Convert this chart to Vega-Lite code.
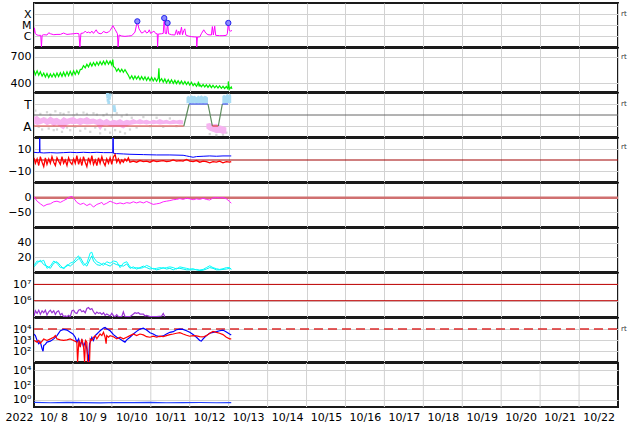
{
"$schema":"https://vega.github.io/schema/vega-lite/v6.json",
"background":"white",
"padding":{"left":0,"top":2,"right":0,"bottom":0},
"spacing":1,
"bounds":"flush",
"config":{
 "font":"DejaVu Sans",
 "view":{"stroke":"#1a1a1a","strokeWidth":2},
 "axis":{"labelFont":"DejaVu Sans","labelFontSize":11,"labelColor":"#000000","gridColor":"#d2d2d2","gridWidth":1,"domain":false,"ticks":false,"labelOverlap":false,"labelFlush":false,"labelPadding":3},
 "axisY":{"minExtent":33,"maxExtent":33},
 "text":{"font":"DejaVu Sans"}
},
"datasets":{
"days":[{"t":"2022-10-09T00:00Z"},{"t":"2022-10-10T00:00Z"},{"t":"2022-10-11T00:00Z"},{"t":"2022-10-12T00:00Z"},{"t":"2022-10-13T00:00Z"},{"t":"2022-10-14T00:00Z"},{"t":"2022-10-15T00:00Z"},{"t":"2022-10-16T00:00Z"},{"t":"2022-10-17T00:00Z"},{"t":"2022-10-18T00:00Z"},{"t":"2022-10-19T00:00Z"},{"t":"2022-10-20T00:00Z"},{"t":"2022-10-21T00:00Z"},{"t":"2022-10-22T00:00Z"}],
"xray":[
{"t":"2022-10-08T00:00Z","v":1.98e-6},{"t":"2022-10-08T00:15Z","v":5.5e-6},{"t":"2022-10-08T00:50Z","v":1.61e-6},{"t":"2022-10-08T01:55Z","v":1.23e-6},{"t":"2022-10-08T02:55Z","v":1.15e-6},{"t":"2022-10-08T04:10Z","v":1.15e-6},{"t":"2022-10-08T04:35Z","v":1e-7},{"t":"2022-10-08T05:00Z","v":1.15e-6},{"t":"2022-10-08T06:00Z","v":1.31e-6},{"t":"2022-10-08T08:00Z","v":1.23e-6},{"t":"2022-10-08T09:05Z","v":1.98e-6},{"t":"2022-10-08T10:05Z","v":1.61e-6},{"t":"2022-10-08T12:10Z","v":1.31e-6},{"t":"2022-10-08T14:10Z","v":1.4e-6},{"t":"2022-10-08T16:15Z","v":1.4e-6},{"t":"2022-10-08T18:15Z","v":1.85e-6},{"t":"2022-10-08T19:15Z","v":1.61e-6},{"t":"2022-10-08T20:20Z","v":1.4e-6},{"t":"2022-10-08T22:20Z","v":1.5e-6},{"t":"2022-10-09T00:25Z","v":1.61e-6},{"t":"2022-10-09T02:25Z","v":1.73e-6},{"t":"2022-10-09T03:40Z","v":1.61e-6},{"t":"2022-10-09T04:18Z","v":1e-7},{"t":"2022-10-09T04:55Z","v":1.73e-6},{"t":"2022-10-09T06:30Z","v":1.85e-6},{"t":"2022-10-09T07:35Z","v":2.78e-6},{"t":"2022-10-09T08:35Z","v":1.98e-6},{"t":"2022-10-09T09:35Z","v":2.27e-6},{"t":"2022-10-09T10:40Z","v":1.85e-6},{"t":"2022-10-09T11:40Z","v":2.78e-6},{"t":"2022-10-09T12:40Z","v":1.73e-6},{"t":"2022-10-09T14:20Z","v":3.66e-6},{"t":"2022-10-09T15:20Z","v":1.98e-6},{"t":"2022-10-09T16:45Z","v":1.61e-6},{"t":"2022-10-09T17:50Z","v":1.73e-6},{"t":"2022-10-09T18:50Z","v":2.6e-6},{"t":"2022-10-09T20:28Z","v":1.98e-6},{"t":"2022-10-09T21:55Z","v":2.27e-6},{"t":"2022-10-09T22:55Z","v":3.19e-6},{"t":"2022-10-09T23:55Z","v":5.5e-6},{"t":"2022-10-10T00:34Z","v":8.9e-6},{"t":"2022-10-10T02:00Z","v":3.92e-6},{"t":"2022-10-10T03:25Z","v":1.61e-6},{"t":"2022-10-10T03:50Z","v":1e-7},{"t":"2022-10-10T04:27Z","v":1.23e-6},{"t":"2022-10-10T06:05Z","v":1.0e-6},{"t":"2022-10-10T08:05Z","v":9.3e-7},{"t":"2022-10-10T10:10Z","v":1.0e-6},{"t":"2022-10-10T12:15Z","v":1.07e-6},{"t":"2022-10-10T14:15Z","v":2.27e-6},{"t":"2022-10-10T15:42Z","v":2.16e-5},{"t":"2022-10-10T16:43Z","v":4.49e-6},{"t":"2022-10-10T18:20Z","v":1.85e-6},{"t":"2022-10-10T19:25Z","v":2.12e-6},{"t":"2022-10-10T20:25Z","v":3.19e-6},{"t":"2022-10-10T21:25Z","v":1.85e-6},{"t":"2022-10-10T22:25Z","v":2.27e-6},{"t":"2022-10-10T23:04Z","v":3.66e-6},{"t":"2022-10-10T23:53Z","v":1.73e-6},{"t":"2022-10-11T01:56Z","v":2.78e-6},{"t":"2022-10-11T03:10Z","v":1.61e-6},{"t":"2022-10-11T03:59Z","v":1.61e-6},{"t":"2022-10-11T04:11Z","v":1e-7},{"t":"2022-10-11T04:35Z","v":1.5e-6},{"t":"2022-10-11T06:40Z","v":1.61e-6},{"t":"2022-10-11T07:40Z","v":1.73e-6},{"t":"2022-10-11T08:17Z","v":4.27e-5},{"t":"2022-10-11T08:53Z","v":1.73e-6},{"t":"2022-10-11T09:40Z","v":1.61e-6},{"t":"2022-10-11T10:20Z","v":1.53e-5},{"t":"2022-10-11T10:56Z","v":1.61e-6},{"t":"2022-10-11T12:45Z","v":1.31e-6},{"t":"2022-10-11T14:50Z","v":1.23e-6},{"t":"2022-10-11T15:50Z","v":3.66e-6},{"t":"2022-10-11T16:28Z","v":1.31e-6},{"t":"2022-10-11T17:17Z","v":2.78e-6},{"t":"2022-10-11T17:55Z","v":1.31e-6},{"t":"2022-10-11T18:55Z","v":6.3e-6},{"t":"2022-10-11T19:32Z","v":1.31e-6},{"t":"2022-10-11T20:22Z","v":3.19e-6},{"t":"2022-10-11T20:58Z","v":4.49e-6},{"t":"2022-10-11T21:35Z","v":1.23e-6},{"t":"2022-10-11T23:00Z","v":1.0e-6},{"t":"2022-10-12T01:05Z","v":8.7e-7},{"t":"2022-10-12T03:05Z","v":8.15e-7},{"t":"2022-10-12T04:10Z","v":8.15e-7},{"t":"2022-10-12T04:20Z","v":1e-7},{"t":"2022-10-12T04:45Z","v":8.15e-7},{"t":"2022-10-12T06:10Z","v":8.15e-7},{"t":"2022-10-12T07:10Z","v":1.61e-6},{"t":"2022-10-12T08:38Z","v":3.66e-6},{"t":"2022-10-12T09:52Z","v":1.85e-6},{"t":"2022-10-12T11:15Z","v":1.31e-6},{"t":"2022-10-12T13:20Z","v":1.23e-6},{"t":"2022-10-12T13:57Z","v":7.2e-6},{"t":"2022-10-12T14:34Z","v":1.23e-6},{"t":"2022-10-12T15:23Z","v":7.7e-6},{"t":"2022-10-12T16:00Z","v":1.15e-6},{"t":"2022-10-12T18:25Z","v":1.07e-6},{"t":"2022-10-12T20:30Z","v":1.07e-6},{"t":"2022-10-12T22:35Z","v":1.15e-6},{"t":"2022-10-12T23:10Z","v":1.61e-6},{"t":"2022-10-12T23:47Z","v":1.53e-5},{"t":"2022-10-13T00:23Z","v":3.19e-6},{"t":"2022-10-13T01:13Z","v":2.78e-6},{"t":"2022-10-13T02:02Z","v":3.19e-6}
],
"flare":[
{"t":"2022-10-10T15:42Z","v":2.16e-5},{"t":"2022-10-11T08:17Z","v":4.27e-5},{"t":"2022-10-11T10:20Z","v":1.53e-5},{"t":"2022-10-12T23:47Z","v":1.53e-5}
],
"sw":[
{"t":"2022-10-08T00:00Z","v":545},{"t":"2022-10-08T00:50Z","v":495},{"t":"2022-10-08T01:55Z","v":540},{"t":"2022-10-08T02:55Z","v":490},{"t":"2022-10-08T03:55Z","v":530},{"t":"2022-10-08T05:00Z","v":480},{"t":"2022-10-08T06:00Z","v":515},{"t":"2022-10-08T07:00Z","v":470},{"t":"2022-10-08T08:00Z","v":510},{"t":"2022-10-08T09:05Z","v":465},{"t":"2022-10-08T10:05Z","v":505},{"t":"2022-10-08T11:05Z","v":470},{"t":"2022-10-08T12:10Z","v":510},{"t":"2022-10-08T13:10Z","v":470},{"t":"2022-10-08T14:10Z","v":515},{"t":"2022-10-08T15:10Z","v":475},{"t":"2022-10-08T16:15Z","v":520},{"t":"2022-10-08T17:15Z","v":478},{"t":"2022-10-08T18:15Z","v":525},{"t":"2022-10-08T19:15Z","v":480},{"t":"2022-10-08T20:20Z","v":530},{"t":"2022-10-08T21:20Z","v":485},{"t":"2022-10-08T22:20Z","v":535},{"t":"2022-10-08T23:25Z","v":490},{"t":"2022-10-09T00:25Z","v":540},{"t":"2022-10-09T01:25Z","v":500},{"t":"2022-10-09T02:25Z","v":545},{"t":"2022-10-09T03:30Z","v":505},{"t":"2022-10-09T04:30Z","v":555},{"t":"2022-10-09T05:30Z","v":560},{"t":"2022-10-09T06:30Z","v":600},{"t":"2022-10-09T07:35Z","v":575},{"t":"2022-10-09T08:35Z","v":615},{"t":"2022-10-09T09:35Z","v":585},{"t":"2022-10-09T10:40Z","v":630},{"t":"2022-10-09T11:40Z","v":595},{"t":"2022-10-09T12:40Z","v":635},{"t":"2022-10-09T13:45Z","v":600},{"t":"2022-10-09T14:45Z","v":640},{"t":"2022-10-09T15:45Z","v":605},{"t":"2022-10-09T16:45Z","v":645},{"t":"2022-10-09T17:50Z","v":610},{"t":"2022-10-09T18:50Z","v":650},{"t":"2022-10-09T19:50Z","v":612},{"t":"2022-10-09T20:50Z","v":655},{"t":"2022-10-09T21:55Z","v":615},{"t":"2022-10-09T22:55Z","v":650},{"t":"2022-10-09T23:55Z","v":610},{"t":"2022-10-10T00:34Z","v":668},{"t":"2022-10-10T01:00Z","v":590},{"t":"2022-10-10T02:00Z","v":575},{"t":"2022-10-10T03:00Z","v":535},{"t":"2022-10-10T04:00Z","v":565},{"t":"2022-10-10T05:05Z","v":530},{"t":"2022-10-10T06:05Z","v":560},{"t":"2022-10-10T07:05Z","v":525},{"t":"2022-10-10T08:05Z","v":555},{"t":"2022-10-10T09:10Z","v":520},{"t":"2022-10-10T10:10Z","v":490},{"t":"2022-10-10T11:10Z","v":450},{"t":"2022-10-10T12:15Z","v":485},{"t":"2022-10-10T13:15Z","v":445},{"t":"2022-10-10T14:15Z","v":482},{"t":"2022-10-10T15:15Z","v":448},{"t":"2022-10-10T16:20Z","v":480},{"t":"2022-10-10T17:20Z","v":440},{"t":"2022-10-10T18:20Z","v":475},{"t":"2022-10-10T19:25Z","v":438},{"t":"2022-10-10T20:25Z","v":472},{"t":"2022-10-10T21:25Z","v":432},{"t":"2022-10-10T22:25Z","v":468},{"t":"2022-10-10T23:30Z","v":428},{"t":"2022-10-11T00:30Z","v":465},{"t":"2022-10-11T01:30Z","v":425},{"t":"2022-10-11T02:30Z","v":460},{"t":"2022-10-11T03:35Z","v":422},{"t":"2022-10-11T04:35Z","v":458},{"t":"2022-10-11T05:00Z","v":570},{"t":"2022-10-11T05:25Z","v":420},{"t":"2022-10-11T06:40Z","v":452},{"t":"2022-10-11T07:40Z","v":412},{"t":"2022-10-11T08:40Z","v":448},{"t":"2022-10-11T09:40Z","v":405},{"t":"2022-10-11T10:45Z","v":442},{"t":"2022-10-11T11:45Z","v":402},{"t":"2022-10-11T12:45Z","v":438},{"t":"2022-10-11T13:50Z","v":398},{"t":"2022-10-11T14:50Z","v":432},{"t":"2022-10-11T15:50Z","v":395},{"t":"2022-10-11T16:50Z","v":428},{"t":"2022-10-11T17:55Z","v":392},{"t":"2022-10-11T18:55Z","v":425},{"t":"2022-10-11T19:55Z","v":388},{"t":"2022-10-11T21:00Z","v":420},{"t":"2022-10-11T22:00Z","v":385},{"t":"2022-10-11T23:00Z","v":415},{"t":"2022-10-12T00:00Z","v":380},{"t":"2022-10-12T01:05Z","v":410},{"t":"2022-10-12T02:05Z","v":372},{"t":"2022-10-12T03:05Z","v":395},{"t":"2022-10-12T04:10Z","v":365},{"t":"2022-10-12T05:10Z","v":398},{"t":"2022-10-12T05:22Z","v":418},{"t":"2022-10-12T05:46Z","v":362},{"t":"2022-10-12T06:10Z","v":385},{"t":"2022-10-12T07:10Z","v":360},{"t":"2022-10-12T08:15Z","v":385},{"t":"2022-10-12T09:15Z","v":358},{"t":"2022-10-12T10:15Z","v":382},{"t":"2022-10-12T11:15Z","v":352},{"t":"2022-10-12T12:20Z","v":380},{"t":"2022-10-12T13:20Z","v":350},{"t":"2022-10-12T14:20Z","v":376},{"t":"2022-10-12T15:25Z","v":348},{"t":"2022-10-12T16:25Z","v":372},{"t":"2022-10-12T17:25Z","v":345},{"t":"2022-10-12T18:25Z","v":370},{"t":"2022-10-12T19:30Z","v":342},{"t":"2022-10-12T20:30Z","v":365},{"t":"2022-10-12T21:30Z","v":340},{"t":"2022-10-12T22:35Z","v":362},{"t":"2022-10-12T23:35Z","v":335},{"t":"2022-10-12T23:47Z","v":420},{"t":"2022-10-13T00:11Z","v":360},{"t":"2022-10-13T00:35Z","v":335},{"t":"2022-10-13T01:35Z","v":358},{"t":"2022-10-13T02:00Z","v":335}
],
"sector":[
{"t":"2022-10-08T00:00Z","v":-1,"k":"A","s":1},{"t":"2022-10-11T20:22Z","v":-1,"k":"A","s":1},
{"t":"2022-10-11T20:22Z","v":-1,"k":"G","s":2},{"t":"2022-10-11T23:38Z","v":1,"k":"G","s":2},
{"t":"2022-10-11T23:38Z","v":1,"k":"T","s":3},{"t":"2022-10-12T11:15Z","v":1,"k":"T","s":3},
{"t":"2022-10-12T11:15Z","v":1,"k":"G","s":4},{"t":"2022-10-12T13:57Z","v":-1,"k":"G","s":4},
{"t":"2022-10-12T13:57Z","v":-1,"k":"A","s":5},{"t":"2022-10-12T17:38Z","v":-1,"k":"A","s":5},
{"t":"2022-10-12T17:38Z","v":-1,"k":"G","s":6},{"t":"2022-10-12T20:06Z","v":1,"k":"G","s":6},
{"t":"2022-10-12T20:06Z","v":1,"k":"T","s":7},{"t":"2022-10-12T23:35Z","v":1,"k":"T","s":7}
],
"pink":[
{"t":"2022-10-08T00:00Z","hi":-0.19,"lo":-0.79,"s":1},{"t":"2022-10-08T01:55Z","hi":-0.07,"lo":-0.9,"s":1},{"t":"2022-10-08T03:55Z","hi":-0.31,"lo":-0.84,"s":1},{"t":"2022-10-08T06:00Z","hi":-0.19,"lo":-0.73,"s":1},{"t":"2022-10-08T08:00Z","hi":-0.37,"lo":-0.93,"s":1},{"t":"2022-10-08T10:05Z","hi":-0.13,"lo":-0.79,"s":1},{"t":"2022-10-08T12:10Z","hi":-0.31,"lo":-1.02,"s":1},{"t":"2022-10-08T14:10Z","hi":-0.25,"lo":-0.87,"s":1},{"t":"2022-10-08T16:15Z","hi":-0.43,"lo":-1.14,"s":1},{"t":"2022-10-08T18:15Z","hi":-0.19,"lo":-1.32,"s":1},{"t":"2022-10-08T20:20Z","hi":-0.34,"lo":-0.9,"s":1},{"t":"2022-10-08T22:20Z","hi":-0.25,"lo":-0.79,"s":1},{"t":"2022-10-09T00:25Z","hi":-0.19,"lo":-0.84,"s":1},{"t":"2022-10-09T02:25Z","hi":-0.37,"lo":-0.79,"s":1},{"t":"2022-10-09T04:30Z","hi":-0.25,"lo":-0.93,"s":1},{"t":"2022-10-09T06:30Z","hi":-0.31,"lo":-0.79,"s":1},{"t":"2022-10-09T08:35Z","hi":-0.19,"lo":-0.87,"s":1},{"t":"2022-10-09T10:40Z","hi":-0.37,"lo":-0.84,"s":1},{"t":"2022-10-09T12:40Z","hi":-0.31,"lo":-0.79,"s":1},{"t":"2022-10-09T14:45Z","hi":-0.43,"lo":-0.9,"s":1},{"t":"2022-10-09T16:45Z","hi":-0.31,"lo":-1.38,"s":1},{"t":"2022-10-09T18:50Z","hi":-0.49,"lo":-0.96,"s":1},{"t":"2022-10-09T20:50Z","hi":-0.34,"lo":-0.9,"s":1},{"t":"2022-10-09T22:55Z","hi":-0.55,"lo":-1.02,"s":1},{"t":"2022-10-10T01:00Z","hi":-0.43,"lo":-1.14,"s":1},{"t":"2022-10-10T03:00Z","hi":-0.49,"lo":-1.02,"s":1},{"t":"2022-10-10T05:05Z","hi":-0.37,"lo":-1.08,"s":1},{"t":"2022-10-10T07:05Z","hi":-0.55,"lo":-1.23,"s":1},{"t":"2022-10-10T09:10Z","hi":-0.43,"lo":-1.02,"s":1},{"t":"2022-10-10T11:10Z","hi":-0.49,"lo":-0.9,"s":1},{"t":"2022-10-10T13:15Z","hi":-0.37,"lo":-0.84,"s":1},{"t":"2022-10-10T15:15Z","hi":-0.49,"lo":-0.79,"s":1},{"t":"2022-10-10T17:20Z","hi":-0.37,"lo":-0.84,"s":1},{"t":"2022-10-10T19:25Z","hi":-0.49,"lo":-0.79,"s":1},{"t":"2022-10-10T21:25Z","hi":-0.43,"lo":-0.87,"s":1},{"t":"2022-10-10T23:30Z","hi":-0.55,"lo":-0.79,"s":1},{"t":"2022-10-11T01:30Z","hi":-0.43,"lo":-0.84,"s":1},{"t":"2022-10-11T03:35Z","hi":-0.49,"lo":-0.79,"s":1},{"t":"2022-10-11T05:35Z","hi":-0.37,"lo":-0.87,"s":1},{"t":"2022-10-11T07:40Z","hi":-0.49,"lo":-0.81,"s":1},{"t":"2022-10-11T09:40Z","hi":-0.43,"lo":-0.79,"s":1},{"t":"2022-10-11T11:45Z","hi":-0.55,"lo":-0.84,"s":1},{"t":"2022-10-11T13:50Z","hi":-0.43,"lo":-0.81,"s":1},{"t":"2022-10-11T15:50Z","hi":-0.49,"lo":-0.79,"s":1},{"t":"2022-10-11T17:55Z","hi":-0.43,"lo":-0.87,"s":1},{"t":"2022-10-11T19:55Z","hi":-0.49,"lo":-0.84,"s":1},
{"t":"2022-10-12T10:15Z","hi":-0.79,"lo":-1.23,"s":2},{"t":"2022-10-12T12:20Z","hi":-0.73,"lo":-1.44,"s":2},{"t":"2022-10-12T14:20Z","hi":-0.84,"lo":-1.53,"s":2},{"t":"2022-10-12T16:25Z","hi":-0.79,"lo":-1.67,"s":2},{"t":"2022-10-12T18:25Z","hi":-0.93,"lo":-1.61,"s":2},{"t":"2022-10-12T20:30Z","hi":-1.02,"lo":-1.73,"s":2},{"t":"2022-10-12T22:35Z","hi":-1.14,"lo":-1.67,"s":2}
],
"lblue":[
{"t":"2022-10-11T22:00Z","hi":1.6,"lo":1.05,"s":1},{"t":"2022-10-11T23:00Z","hi":1.75,"lo":1.1,"s":1},{"t":"2022-10-12T00:00Z","hi":1.65,"lo":1.0,"s":1},{"t":"2022-10-12T01:05Z","hi":1.8,"lo":1.08,"s":1},{"t":"2022-10-12T02:05Z","hi":1.7,"lo":1.05,"s":1},{"t":"2022-10-12T03:05Z","hi":1.75,"lo":1.12,"s":1},{"t":"2022-10-12T04:10Z","hi":1.62,"lo":1.03,"s":1},{"t":"2022-10-12T05:10Z","hi":1.78,"lo":1.1,"s":1},{"t":"2022-10-12T06:10Z","hi":1.68,"lo":1.05,"s":1},{"t":"2022-10-12T07:10Z","hi":1.8,"lo":1.1,"s":1},{"t":"2022-10-12T08:15Z","hi":1.66,"lo":1.02,"s":1},{"t":"2022-10-12T09:15Z","hi":1.75,"lo":1.08,"s":1},{"t":"2022-10-12T10:15Z","hi":1.7,"lo":1.06,"s":1},{"t":"2022-10-12T11:15Z","hi":1.6,"lo":1.1,"s":1},
{"t":"2022-10-12T20:06Z","hi":1.7,"lo":1.05,"s":2},{"t":"2022-10-12T21:07Z","hi":1.85,"lo":1.1,"s":2},{"t":"2022-10-12T22:08Z","hi":1.75,"lo":1.02,"s":2},{"t":"2022-10-12T23:10Z","hi":1.95,"lo":1.08,"s":2},{"t":"2022-10-13T00:11Z","hi":1.8,"lo":1.05,"s":2},{"t":"2022-10-13T01:13Z","hi":1.9,"lo":1.1,"s":2},{"t":"2022-10-13T01:35Z","hi":1.75,"lo":1.08,"s":2}
],
"lbp":[
{"t":"2022-10-09T21:17Z","v":1.88},{"t":"2022-10-09T21:30Z","v":1.64},{"t":"2022-10-09T21:41Z","v":1.35},{"t":"2022-10-09T22:06Z","v":1.14},{"t":"2022-10-09T22:30Z","v":1.53},{"t":"2022-10-09T22:55Z","v":1.82},{"t":"2022-10-09T22:10Z","v":1.7},{"t":"2022-10-10T01:23Z","v":0.76},{"t":"2022-10-10T01:35Z","v":0.55},{"t":"2022-10-10T01:47Z","v":0.4}
],
"gray":[
{"t":"2022-10-08T00:50Z","v":0.4},{"t":"2022-10-08T01:55Z","v":-0.64},{"t":"2022-10-08T02:55Z","v":-1.08},{"t":"2022-10-08T03:55Z","v":0.1},{"t":"2022-10-08T05:00Z","v":-1.32},{"t":"2022-10-08T07:00Z","v":-0.34},{"t":"2022-10-08T08:00Z","v":0.25},{"t":"2022-10-08T09:05Z","v":-1.23},{"t":"2022-10-08T10:05Z","v":0.04},{"t":"2022-10-08T12:10Z","v":-1.38},{"t":"2022-10-08T13:10Z","v":0.34},{"t":"2022-10-08T14:10Z","v":-1.32},{"t":"2022-10-08T16:15Z","v":0.16},{"t":"2022-10-08T17:15Z","v":-1.53},{"t":"2022-10-08T18:15Z","v":0.1},{"t":"2022-10-08T20:20Z","v":-1.14},{"t":"2022-10-08T21:20Z","v":0.25},{"t":"2022-10-08T22:20Z","v":-1.38},{"t":"2022-10-09T00:25Z","v":-0.04},{"t":"2022-10-09T01:25Z","v":-1.08},{"t":"2022-10-09T02:25Z","v":0.1},{"t":"2022-10-09T04:30Z","v":-1.44},{"t":"2022-10-09T06:30Z","v":0.22},{"t":"2022-10-09T07:35Z","v":-1.23},{"t":"2022-10-09T08:35Z","v":0.1},{"t":"2022-10-09T10:40Z","v":-1.53},{"t":"2022-10-09T12:40Z","v":0.16},{"t":"2022-10-09T13:45Z","v":-1.14},{"t":"2022-10-09T14:45Z","v":0.04},{"t":"2022-10-09T16:45Z","v":-1.67},{"t":"2022-10-09T18:50Z","v":-0.04},{"t":"2022-10-09T19:50Z","v":-1.32},{"t":"2022-10-09T20:50Z","v":0.1},{"t":"2022-10-09T22:55Z","v":-1.61},{"t":"2022-10-09T23:55Z","v":-0.19},{"t":"2022-10-10T02:00Z","v":-1.38},{"t":"2022-10-10T03:00Z","v":0.16},{"t":"2022-10-10T05:05Z","v":-1.53},{"t":"2022-10-10T06:05Z","v":-0.13},{"t":"2022-10-10T08:05Z","v":-1.67},{"t":"2022-10-10T09:10Z","v":0.04},{"t":"2022-10-10T11:10Z","v":-1.32},{"t":"2022-10-10T12:15Z","v":-0.25},{"t":"2022-10-10T15:15Z","v":-1.14},{"t":"2022-10-10T19:25Z","v":-0.19},{"t":"2022-10-10T23:30Z","v":-1.02},{"t":"2022-10-11T03:35Z","v":-0.25},{"t":"2022-10-11T07:40Z","v":-1.08},{"t":"2022-10-11T11:45Z","v":-0.31},{"t":"2022-10-11T15:50Z","v":-1.02},{"t":"2022-10-12T12:20Z","v":-1.73},{"t":"2022-10-12T14:20Z","v":-1.38},{"t":"2022-10-12T16:25Z","v":-1.82},{"t":"2022-10-12T18:25Z","v":-1.53},{"t":"2022-10-12T20:30Z","v":-1.79},{"t":"2022-10-12T22:35Z","v":-1.61}
],
"bt":[
{"t":"2022-10-08T00:00Z","v":7.0},{"t":"2022-10-08T01:55Z","v":6.7},{"t":"2022-10-08T03:20Z","v":6.7},{"t":"2022-10-08T03:32Z","v":20},{"t":"2022-10-08T03:44Z","v":6.7},{"t":"2022-10-08T06:00Z","v":6.4},{"t":"2022-10-08T10:05Z","v":6.7},{"t":"2022-10-08T14:10Z","v":6.4},{"t":"2022-10-08T18:15Z","v":6.7},{"t":"2022-10-08T22:20Z","v":7.0},{"t":"2022-10-09T02:25Z","v":6.7},{"t":"2022-10-09T06:30Z","v":7.0},{"t":"2022-10-09T10:40Z","v":6.7},{"t":"2022-10-09T14:45Z","v":7.0},{"t":"2022-10-09T18:50Z","v":6.7},{"t":"2022-10-09T22:55Z","v":6.7},{"t":"2022-10-10T00:34Z","v":6.7},{"t":"2022-10-10T00:46Z","v":20},{"t":"2022-10-10T00:58Z","v":6.1},{"t":"2022-10-10T03:00Z","v":5.8},{"t":"2022-10-10T07:05Z","v":5.5},{"t":"2022-10-10T11:10Z","v":5.2},{"t":"2022-10-10T19:25Z","v":4.9},{"t":"2022-10-11T03:35Z","v":4.6},{"t":"2022-10-11T11:45Z","v":4.6},{"t":"2022-10-11T19:55Z","v":4.3},{"t":"2022-10-11T22:00Z","v":3.7},{"t":"2022-10-12T00:00Z","v":3.1},{"t":"2022-10-12T02:05Z","v":2.5},{"t":"2022-10-12T04:10Z","v":3.1},{"t":"2022-10-12T08:15Z","v":3.4},{"t":"2022-10-12T12:20Z","v":3.7},{"t":"2022-10-12T16:25Z","v":3.4},{"t":"2022-10-12T20:30Z","v":3.7},{"t":"2022-10-13T00:35Z","v":3.7},{"t":"2022-10-13T01:35Z","v":3.7}
],
"bz":[
{"t":"2022-10-08T00:00Z","v":2},{"t":"2022-10-08T00:50Z","v":-3},{"t":"2022-10-08T01:55Z","v":1},{"t":"2022-10-08T02:55Z","v":-5},{"t":"2022-10-08T03:55Z","v":3},{"t":"2022-10-08T05:00Z","v":-2},{"t":"2022-10-08T06:00Z","v":-6},{"t":"2022-10-08T07:00Z","v":2},{"t":"2022-10-08T08:00Z","v":-4},{"t":"2022-10-08T09:05Z","v":1},{"t":"2022-10-08T10:05Z","v":-3},{"t":"2022-10-08T11:05Z","v":3},{"t":"2022-10-08T12:10Z","v":-2},{"t":"2022-10-08T13:10Z","v":-5},{"t":"2022-10-08T14:10Z","v":2},{"t":"2022-10-08T15:10Z","v":-1},{"t":"2022-10-08T16:15Z","v":-4},{"t":"2022-10-08T17:15Z","v":3},{"t":"2022-10-08T18:15Z","v":-3},{"t":"2022-10-08T19:15Z","v":0},{"t":"2022-10-08T20:20Z","v":-5},{"t":"2022-10-08T21:20Z","v":2},{"t":"2022-10-08T22:20Z","v":-2},{"t":"2022-10-08T23:25Z","v":-4},{"t":"2022-10-09T00:25Z","v":1},{"t":"2022-10-09T01:25Z","v":-3},{"t":"2022-10-09T02:25Z","v":4},{"t":"2022-10-09T03:30Z","v":-4},{"t":"2022-10-09T04:30Z","v":1},{"t":"2022-10-09T05:30Z","v":-5},{"t":"2022-10-09T06:30Z","v":3},{"t":"2022-10-09T07:35Z","v":-2},{"t":"2022-10-09T08:35Z","v":-6},{"t":"2022-10-09T09:35Z","v":2},{"t":"2022-10-09T10:40Z","v":-3},{"t":"2022-10-09T11:40Z","v":4},{"t":"2022-10-09T12:40Z","v":-4},{"t":"2022-10-09T13:45Z","v":0},{"t":"2022-10-09T14:45Z","v":-5},{"t":"2022-10-09T15:45Z","v":2},{"t":"2022-10-09T16:45Z","v":-3},{"t":"2022-10-09T17:50Z","v":3},{"t":"2022-10-09T18:50Z","v":-2},{"t":"2022-10-09T19:50Z","v":-5},{"t":"2022-10-09T20:50Z","v":1},{"t":"2022-10-09T21:55Z","v":-3},{"t":"2022-10-09T22:55Z","v":2},{"t":"2022-10-09T23:55Z","v":-4},{"t":"2022-10-10T01:00Z","v":3},{"t":"2022-10-10T02:00Z","v":5},{"t":"2022-10-10T03:00Z","v":-2},{"t":"2022-10-10T04:00Z","v":1},{"t":"2022-10-10T05:05Z","v":-3},{"t":"2022-10-10T06:05Z","v":0},{"t":"2022-10-10T07:05Z","v":-2},{"t":"2022-10-10T08:05Z","v":1},{"t":"2022-10-10T09:10Z","v":-1},{"t":"2022-10-10T10:10Z","v":2},{"t":"2022-10-10T11:10Z","v":-2},{"t":"2022-10-10T13:15Z","v":-1},{"t":"2022-10-10T15:15Z","v":-2},{"t":"2022-10-10T17:20Z","v":-0.5},{"t":"2022-10-10T19:25Z","v":-1.5},{"t":"2022-10-10T21:25Z","v":-1},{"t":"2022-10-10T23:30Z","v":-2},{"t":"2022-10-11T01:30Z","v":-0.5},{"t":"2022-10-11T03:35Z","v":-1.5},{"t":"2022-10-11T05:35Z","v":-1},{"t":"2022-10-11T07:40Z","v":-0.5},{"t":"2022-10-11T09:40Z","v":-1.5},{"t":"2022-10-11T11:45Z","v":-1},{"t":"2022-10-11T13:50Z","v":0},{"t":"2022-10-11T15:50Z","v":-1},{"t":"2022-10-11T17:55Z","v":-0.5},{"t":"2022-10-11T19:55Z","v":-1},{"t":"2022-10-11T22:00Z","v":0.5},{"t":"2022-10-12T00:00Z","v":-1},{"t":"2022-10-12T02:05Z","v":-1.5},{"t":"2022-10-12T04:10Z","v":-0.5},{"t":"2022-10-12T06:10Z","v":-2},{"t":"2022-10-12T08:15Z","v":-1},{"t":"2022-10-12T10:15Z","v":-1.5},{"t":"2022-10-12T12:20Z","v":-2.5},{"t":"2022-10-12T14:20Z","v":-1.5},{"t":"2022-10-12T16:25Z","v":-2},{"t":"2022-10-12T18:25Z","v":-1},{"t":"2022-10-12T20:30Z","v":-2.5},{"t":"2022-10-12T22:35Z","v":-1.5},{"t":"2022-10-13T00:35Z","v":-2},{"t":"2022-10-13T01:35Z","v":-1.5}
],
"dst":[
{"t":"2022-10-08T00:00Z","v":3},{"t":"2022-10-08T01:55Z","v":-12},{"t":"2022-10-08T03:55Z","v":-21},{"t":"2022-10-08T06:00Z","v":-29},{"t":"2022-10-08T08:00Z","v":-23},{"t":"2022-10-08T10:05Z","v":-21},{"t":"2022-10-08T12:10Z","v":-14},{"t":"2022-10-08T14:10Z","v":-12},{"t":"2022-10-08T16:15Z","v":-16},{"t":"2022-10-08T18:15Z","v":-10},{"t":"2022-10-08T20:20Z","v":-4},{"t":"2022-10-08T22:20Z","v":3},{"t":"2022-10-08T23:25Z","v":4},{"t":"2022-10-09T00:25Z","v":-1},{"t":"2022-10-09T02:25Z","v":-16},{"t":"2022-10-09T04:30Z","v":-23},{"t":"2022-10-09T06:30Z","v":-19},{"t":"2022-10-09T08:35Z","v":-27},{"t":"2022-10-09T10:40Z","v":-21},{"t":"2022-10-09T12:40Z","v":-32},{"t":"2022-10-09T14:45Z","v":-23},{"t":"2022-10-09T16:45Z","v":-19},{"t":"2022-10-09T17:50Z","v":-16},{"t":"2022-10-09T18:50Z","v":-24},{"t":"2022-10-09T20:50Z","v":-19},{"t":"2022-10-09T22:55Z","v":-12},{"t":"2022-10-10T01:00Z","v":-17},{"t":"2022-10-10T03:00Z","v":-21},{"t":"2022-10-10T05:05Z","v":-18},{"t":"2022-10-10T07:05Z","v":-21},{"t":"2022-10-10T09:10Z","v":-17},{"t":"2022-10-10T11:10Z","v":-19},{"t":"2022-10-10T13:15Z","v":-14},{"t":"2022-10-10T15:15Z","v":-18},{"t":"2022-10-10T17:20Z","v":-14},{"t":"2022-10-10T19:25Z","v":-18},{"t":"2022-10-10T21:25Z","v":-13},{"t":"2022-10-10T23:30Z","v":-18},{"t":"2022-10-11T01:30Z","v":-23},{"t":"2022-10-11T03:35Z","v":-21},{"t":"2022-10-11T05:35Z","v":-19},{"t":"2022-10-11T07:40Z","v":-14},{"t":"2022-10-11T09:40Z","v":-12},{"t":"2022-10-11T11:45Z","v":-10},{"t":"2022-10-11T13:50Z","v":-7},{"t":"2022-10-11T15:50Z","v":-6},{"t":"2022-10-11T17:55Z","v":-3},{"t":"2022-10-11T19:55Z","v":-6},{"t":"2022-10-11T22:00Z","v":-2},{"t":"2022-10-12T00:00Z","v":-4},{"t":"2022-10-12T02:05Z","v":-7},{"t":"2022-10-12T04:10Z","v":-4},{"t":"2022-10-12T06:10Z","v":-6},{"t":"2022-10-12T08:15Z","v":-2},{"t":"2022-10-12T10:15Z","v":-6},{"t":"2022-10-12T12:20Z","v":-8},{"t":"2022-10-12T14:20Z","v":-1},{"t":"2022-10-12T16:25Z","v":0},{"t":"2022-10-12T18:25Z","v":-1},{"t":"2022-10-12T20:30Z","v":0},{"t":"2022-10-12T22:35Z","v":-4},{"t":"2022-10-13T00:35Z","v":-13},{"t":"2022-10-13T01:35Z","v":-19}
],
"cya":[
{"t":"2022-10-08T00:00Z","v":9},{"t":"2022-10-08T01:55Z","v":15},{"t":"2022-10-08T03:55Z","v":14},{"t":"2022-10-08T06:00Z","v":16},{"t":"2022-10-08T08:00Z","v":5},{"t":"2022-10-08T10:05Z","v":8},{"t":"2022-10-08T12:10Z","v":15},{"t":"2022-10-08T14:10Z","v":12},{"t":"2022-10-08T16:15Z","v":6},{"t":"2022-10-08T18:15Z","v":6},{"t":"2022-10-08T20:20Z","v":8},{"t":"2022-10-08T22:20Z","v":12},{"t":"2022-10-09T00:25Z","v":14},{"t":"2022-10-09T02:25Z","v":20},{"t":"2022-10-09T03:30Z","v":22},{"t":"2022-10-09T04:30Z","v":16},{"t":"2022-10-09T06:30Z","v":9},{"t":"2022-10-09T08:35Z","v":12},{"t":"2022-10-09T10:40Z","v":26},{"t":"2022-10-09T11:40Z","v":27},{"t":"2022-10-09T12:40Z","v":20},{"t":"2022-10-09T14:45Z","v":14},{"t":"2022-10-09T16:45Z","v":12},{"t":"2022-10-09T18:50Z","v":9},{"t":"2022-10-09T20:50Z","v":14},{"t":"2022-10-09T22:55Z","v":12},{"t":"2022-10-10T01:00Z","v":15},{"t":"2022-10-10T03:00Z","v":14},{"t":"2022-10-10T05:05Z","v":6},{"t":"2022-10-10T07:05Z","v":12},{"t":"2022-10-10T09:10Z","v":14},{"t":"2022-10-10T11:10Z","v":7},{"t":"2022-10-10T13:15Z","v":5},{"t":"2022-10-10T15:15Z","v":6},{"t":"2022-10-10T17:20Z","v":5},{"t":"2022-10-10T19:25Z","v":6},{"t":"2022-10-10T21:25Z","v":9},{"t":"2022-10-10T23:30Z","v":7},{"t":"2022-10-11T01:30Z","v":4},{"t":"2022-10-11T03:35Z","v":5},{"t":"2022-10-11T05:35Z","v":6},{"t":"2022-10-11T07:40Z","v":5},{"t":"2022-10-11T09:40Z","v":6},{"t":"2022-10-11T11:45Z","v":7},{"t":"2022-10-11T13:50Z","v":6},{"t":"2022-10-11T15:50Z","v":4},{"t":"2022-10-11T17:55Z","v":7},{"t":"2022-10-11T19:55Z","v":6},{"t":"2022-10-11T22:00Z","v":5},{"t":"2022-10-12T00:00Z","v":4},{"t":"2022-10-12T02:05Z","v":4.5},{"t":"2022-10-12T04:10Z","v":2.7},{"t":"2022-10-12T06:10Z","v":2.7},{"t":"2022-10-12T08:15Z","v":3.5},{"t":"2022-10-12T10:15Z","v":6},{"t":"2022-10-12T12:20Z","v":8.5},{"t":"2022-10-12T14:20Z","v":6},{"t":"2022-10-12T16:25Z","v":4.5},{"t":"2022-10-12T18:25Z","v":3.5},{"t":"2022-10-12T20:30Z","v":4.5},{"t":"2022-10-12T22:35Z","v":6},{"t":"2022-10-13T00:35Z","v":6},{"t":"2022-10-13T01:35Z","v":3.5}
],
"cyb":[
{"t":"2022-10-08T00:00Z","v":7},{"t":"2022-10-08T01:55Z","v":12},{"t":"2022-10-08T03:55Z","v":16},{"t":"2022-10-08T06:00Z","v":10},{"t":"2022-10-08T08:00Z","v":8},{"t":"2022-10-08T10:05Z","v":5},{"t":"2022-10-08T12:10Z","v":12},{"t":"2022-10-08T14:10Z","v":14},{"t":"2022-10-08T16:15Z","v":9},{"t":"2022-10-08T18:15Z","v":4},{"t":"2022-10-08T20:20Z","v":10},{"t":"2022-10-08T22:20Z","v":8},{"t":"2022-10-09T00:25Z","v":12},{"t":"2022-10-09T02:25Z","v":16},{"t":"2022-10-09T03:30Z","v":18},{"t":"2022-10-09T04:30Z","v":20},{"t":"2022-10-09T06:30Z","v":12},{"t":"2022-10-09T08:35Z","v":8},{"t":"2022-10-09T10:40Z","v":18},{"t":"2022-10-09T11:40Z","v":22},{"t":"2022-10-09T12:40Z","v":15},{"t":"2022-10-09T14:45Z","v":10},{"t":"2022-10-09T16:45Z","v":9},{"t":"2022-10-09T18:50Z","v":12},{"t":"2022-10-09T20:50Z","v":10},{"t":"2022-10-09T22:55Z","v":8},{"t":"2022-10-10T01:00Z","v":12},{"t":"2022-10-10T03:00Z","v":10},{"t":"2022-10-10T05:05Z","v":9},{"t":"2022-10-10T07:05Z","v":8},{"t":"2022-10-10T09:10Z","v":11},{"t":"2022-10-10T11:10Z","v":5},{"t":"2022-10-10T13:15Z","v":7},{"t":"2022-10-10T15:15Z","v":4},{"t":"2022-10-10T17:20Z","v":6},{"t":"2022-10-10T19:25Z","v":8},{"t":"2022-10-10T21:25Z","v":6},{"t":"2022-10-10T23:30Z","v":4},{"t":"2022-10-11T01:30Z","v":5},{"t":"2022-10-11T03:35Z","v":3},{"t":"2022-10-11T05:35Z","v":4},{"t":"2022-10-11T07:40Z","v":6},{"t":"2022-10-11T09:40Z","v":4},{"t":"2022-10-11T11:45Z","v":5},{"t":"2022-10-11T13:50Z","v":3},{"t":"2022-10-11T15:50Z","v":5},{"t":"2022-10-11T17:55Z","v":5},{"t":"2022-10-11T19:55Z","v":4},{"t":"2022-10-11T22:00Z","v":3},{"t":"2022-10-12T00:00Z","v":3},{"t":"2022-10-12T02:05Z","v":3},{"t":"2022-10-12T04:10Z","v":3.5},{"t":"2022-10-12T06:10Z","v":2},{"t":"2022-10-12T08:15Z","v":2.5},{"t":"2022-10-12T10:15Z","v":4},{"t":"2022-10-12T12:20Z","v":6},{"t":"2022-10-12T14:20Z","v":5},{"t":"2022-10-12T16:25Z","v":3},{"t":"2022-10-12T18:25Z","v":3},{"t":"2022-10-12T20:30Z","v":3.5},{"t":"2022-10-12T22:35Z","v":4},{"t":"2022-10-13T00:35Z","v":5},{"t":"2022-10-13T01:35Z","v":4}
],
"pur":[
{"t":"2022-10-08T00:00Z","v":1.15e5},{"t":"2022-10-08T00:50Z","v":2.4e5},{"t":"2022-10-08T01:55Z","v":1.66e5},{"t":"2022-10-08T02:55Z","v":2.63e5},{"t":"2022-10-08T03:55Z","v":1.45e5},{"t":"2022-10-08T05:00Z","v":2.4e5},{"t":"2022-10-08T06:00Z","v":1.82e5},{"t":"2022-10-08T07:00Z","v":2.63e5},{"t":"2022-10-08T08:00Z","v":1.32e5},{"t":"2022-10-08T09:05Z","v":2.09e5},{"t":"2022-10-08T10:05Z","v":2.63e5},{"t":"2022-10-08T11:05Z","v":1.82e5},{"t":"2022-10-08T12:10Z","v":2.4e5},{"t":"2022-10-08T13:10Z","v":1.45e5},{"t":"2022-10-08T14:10Z","v":2.09e5},{"t":"2022-10-08T15:10Z","v":2.4e5},{"t":"2022-10-08T16:15Z","v":1.32e5},{"t":"2022-10-08T17:15Z","v":1.66e5},{"t":"2022-10-08T18:15Z","v":1.05e5},{"t":"2022-10-08T19:15Z","v":1.15e5},{"t":"2022-10-08T20:20Z","v":1.05e5},{"t":"2022-10-08T21:20Z","v":1.26e5},{"t":"2022-10-08T22:20Z","v":1.05e5},{"t":"2022-10-08T23:25Z","v":2.4e5},{"t":"2022-10-09T00:25Z","v":2.63e5},{"t":"2022-10-09T01:25Z","v":1.82e5},{"t":"2022-10-09T02:25Z","v":1.66e5},{"t":"2022-10-09T03:30Z","v":2.63e5},{"t":"2022-10-09T04:30Z","v":2.88e5},{"t":"2022-10-09T05:30Z","v":2.09e5},{"t":"2022-10-09T06:30Z","v":2.4e5},{"t":"2022-10-09T07:35Z","v":1.82e5},{"t":"2022-10-09T08:35Z","v":3.31e5},{"t":"2022-10-09T09:35Z","v":3.8e5},{"t":"2022-10-09T10:40Z","v":2.88e5},{"t":"2022-10-09T11:40Z","v":3.31e5},{"t":"2022-10-09T12:40Z","v":2.09e5},{"t":"2022-10-09T13:45Z","v":1.51e5},{"t":"2022-10-09T14:45Z","v":2.0e5},{"t":"2022-10-09T15:45Z","v":1.66e5},{"t":"2022-10-09T16:45Z","v":1.82e5},{"t":"2022-10-09T17:50Z","v":1.45e5},{"t":"2022-10-09T18:50Z","v":1.82e5},{"t":"2022-10-09T19:50Z","v":1.26e5},{"t":"2022-10-09T20:50Z","v":1.51e5},{"t":"2022-10-09T22:55Z","v":1.15e5},{"t":"2022-10-09T23:55Z","v":1.66e5},{"t":"2022-10-10T01:00Z","v":1.2e5},{"t":"2022-10-10T02:00Z","v":1.05e5},{"t":"2022-10-10T03:00Z","v":1.38e5},{"t":"2022-10-10T04:00Z","v":1.05e5},{"t":"2022-10-10T06:05Z","v":1.05e5},{"t":"2022-10-10T07:05Z","v":2.09e5},{"t":"2022-10-10T08:05Z","v":1.05e5},{"t":"2022-10-10T11:10Z","v":1.05e5},{"t":"2022-10-10T13:15Z","v":1.51e5},{"t":"2022-10-10T14:15Z","v":1.82e5},{"t":"2022-10-10T15:15Z","v":1.66e5},{"t":"2022-10-10T16:20Z","v":1.82e5},{"t":"2022-10-10T17:20Z","v":1.51e5},{"t":"2022-10-10T19:25Z","v":1.51e5},{"t":"2022-10-10T20:25Z","v":1.15e5},{"t":"2022-10-10T21:25Z","v":1.26e5},{"t":"2022-10-10T23:30Z","v":1.05e5},{"t":"2022-10-11T03:35Z","v":1.05e5},{"t":"2022-10-11T06:40Z","v":1.15e5},{"t":"2022-10-11T07:40Z","v":1.66e5},{"t":"2022-10-11T08:40Z","v":1.05e5}
],
"b8":[
{"t":"2022-10-08T00:00Z","v":3500},{"t":"2022-10-08T00:50Z","v":2500},{"t":"2022-10-08T01:55Z","v":910},{"t":"2022-10-08T02:55Z","v":460},{"t":"2022-10-08T03:55Z","v":640},{"t":"2022-10-08T05:00Z","v":160},{"t":"2022-10-08T05:35Z","v":95},{"t":"2022-10-08T06:00Z","v":320},{"t":"2022-10-08T07:00Z","v":400},{"t":"2022-10-08T08:00Z","v":640},{"t":"2022-10-08T10:05Z","v":790},{"t":"2022-10-08T12:10Z","v":1260},{"t":"2022-10-08T14:10Z","v":2500},{"t":"2022-10-08T16:15Z","v":6900},{"t":"2022-10-08T18:15Z","v":9200},{"t":"2022-10-08T20:20Z","v":8000},{"t":"2022-10-08T22:20Z","v":5000},{"t":"2022-10-09T00:00Z","v":3500},{"t":"2022-10-09T01:25Z","v":1780},{"t":"2022-10-09T02:25Z","v":640},{"t":"2022-10-09T03:30Z","v":1260},{"t":"2022-10-09T04:30Z","v":320},{"t":"2022-10-09T05:30Z","v":910},{"t":"2022-10-09T06:30Z","v":230},{"t":"2022-10-09T07:35Z","v":640},{"t":"2022-10-09T08:35Z","v":160},{"t":"2022-10-09T09:35Z","v":10},{"t":"2022-10-09T10:14Z","v":460},{"t":"2022-10-09T10:40Z","v":640},{"t":"2022-10-09T11:40Z","v":1780},{"t":"2022-10-09T12:40Z","v":910},{"t":"2022-10-09T13:45Z","v":2500},{"t":"2022-10-09T14:45Z","v":3500},{"t":"2022-10-09T15:45Z","v":5000},{"t":"2022-10-09T16:45Z","v":6900},{"t":"2022-10-09T18:50Z","v":12000},{"t":"2022-10-09T19:50Z","v":13800},{"t":"2022-10-09T20:50Z","v":10500},{"t":"2022-10-09T22:55Z","v":6900},{"t":"2022-10-10T01:00Z","v":3100},{"t":"2022-10-10T03:00Z","v":1780},{"t":"2022-10-10T05:05Z","v":1260},{"t":"2022-10-10T07:05Z","v":790},{"t":"2022-10-10T08:05Z","v":640},{"t":"2022-10-10T09:10Z","v":1030},{"t":"2022-10-10T11:10Z","v":1780},{"t":"2022-10-10T13:15Z","v":3500},{"t":"2022-10-10T15:15Z","v":6100},{"t":"2022-10-10T17:20Z","v":9800},{"t":"2022-10-10T19:25Z","v":12000},{"t":"2022-10-10T21:25Z","v":8000},{"t":"2022-10-10T23:30Z","v":4600},{"t":"2022-10-11T01:30Z","v":3500},{"t":"2022-10-11T03:35Z","v":2350},{"t":"2022-10-11T05:35Z","v":2000},{"t":"2022-10-11T07:40Z","v":2350},{"t":"2022-10-11T09:40Z","v":3500},{"t":"2022-10-11T11:45Z","v":5000},{"t":"2022-10-11T13:50Z","v":5700},{"t":"2022-10-11T15:50Z","v":8600},{"t":"2022-10-11T17:55Z","v":9800},{"t":"2022-10-11T19:55Z","v":9200},{"t":"2022-10-11T22:00Z","v":6900},{"t":"2022-10-12T00:00Z","v":5000},{"t":"2022-10-12T02:05Z","v":3100},{"t":"2022-10-12T04:10Z","v":1780},{"t":"2022-10-12T06:10Z","v":910},{"t":"2022-10-12T07:10Z","v":790},{"t":"2022-10-12T08:15Z","v":1260},{"t":"2022-10-12T10:15Z","v":2500},{"t":"2022-10-12T12:20Z","v":4100},{"t":"2022-10-12T14:20Z","v":5000},{"t":"2022-10-12T16:25Z","v":5700},{"t":"2022-10-12T18:25Z","v":6900},{"t":"2022-10-12T20:30Z","v":8000},{"t":"2022-10-12T22:35Z","v":5300},{"t":"2022-10-13T00:35Z","v":3500},{"t":"2022-10-13T01:35Z","v":2900}
],
"r8":[
{"t":"2022-10-08T00:00Z","v":910},{"t":"2022-10-08T00:50Z","v":790},{"t":"2022-10-08T01:55Z","v":640},{"t":"2022-10-08T02:55Z","v":910},{"t":"2022-10-08T03:55Z","v":520},{"t":"2022-10-08T05:00Z","v":790},{"t":"2022-10-08T06:00Z","v":1260},{"t":"2022-10-08T08:00Z","v":910},{"t":"2022-10-08T10:05Z","v":1260},{"t":"2022-10-08T12:10Z","v":1780},{"t":"2022-10-08T13:10Z","v":2500},{"t":"2022-10-08T14:10Z","v":1260},{"t":"2022-10-08T16:15Z","v":1030},{"t":"2022-10-08T18:15Z","v":910},{"t":"2022-10-08T20:20Z","v":1030},{"t":"2022-10-08T22:20Z","v":1260},{"t":"2022-10-09T00:25Z","v":910},{"t":"2022-10-09T02:25Z","v":640},{"t":"2022-10-09T02:52Z","v":10},{"t":"2022-10-09T03:40Z","v":910},{"t":"2022-10-09T04:30Z","v":230},{"t":"2022-10-09T05:30Z","v":1260},{"t":"2022-10-09T06:30Z","v":320},{"t":"2022-10-09T07:10Z","v":10},{"t":"2022-10-09T07:47Z","v":910},{"t":"2022-10-09T08:35Z","v":640},{"t":"2022-10-09T09:00Z","v":10},{"t":"2022-10-09T09:35Z","v":10},{"t":"2022-10-09T10:14Z","v":10},{"t":"2022-10-09T10:40Z","v":1260},{"t":"2022-10-09T11:40Z","v":910},{"t":"2022-10-09T12:40Z","v":1780},{"t":"2022-10-09T13:45Z","v":2500},{"t":"2022-10-09T14:45Z","v":1260},{"t":"2022-10-09T16:45Z","v":3500},{"t":"2022-10-09T17:50Z","v":2500},{"t":"2022-10-09T18:50Z","v":5000},{"t":"2022-10-09T19:50Z","v":1780},{"t":"2022-10-09T20:28Z","v":460},{"t":"2022-10-09T20:50Z","v":2500},{"t":"2022-10-09T21:55Z","v":1780},{"t":"2022-10-09T22:55Z","v":2500},{"t":"2022-10-10T01:00Z","v":2000},{"t":"2022-10-10T03:00Z","v":1260},{"t":"2022-10-10T05:05Z","v":1780},{"t":"2022-10-10T07:05Z","v":1260},{"t":"2022-10-10T09:10Z","v":1780},{"t":"2022-10-10T11:10Z","v":2500},{"t":"2022-10-10T13:15Z","v":3500},{"t":"2022-10-10T15:15Z","v":2500},{"t":"2022-10-10T17:20Z","v":3500},{"t":"2022-10-10T19:25Z","v":2900},{"t":"2022-10-10T21:25Z","v":2000},{"t":"2022-10-10T23:30Z","v":1780},{"t":"2022-10-11T01:30Z","v":2200},{"t":"2022-10-11T03:35Z","v":1780},{"t":"2022-10-11T05:35Z","v":2200},{"t":"2022-10-11T07:40Z","v":2000},{"t":"2022-10-11T09:40Z","v":2500},{"t":"2022-10-11T11:45Z","v":3100},{"t":"2022-10-11T13:50Z","v":3500},{"t":"2022-10-11T15:50Z","v":4100},{"t":"2022-10-11T17:55Z","v":4600},{"t":"2022-10-11T19:55Z","v":3500},{"t":"2022-10-11T22:00Z","v":2700},{"t":"2022-10-12T00:00Z","v":2200},{"t":"2022-10-12T02:05Z","v":2500},{"t":"2022-10-12T04:10Z","v":2350},{"t":"2022-10-12T06:10Z","v":2000},{"t":"2022-10-12T08:15Z","v":1900},{"t":"2022-10-12T10:15Z","v":2500},{"t":"2022-10-12T12:20Z","v":4100},{"t":"2022-10-12T14:20Z","v":6100},{"t":"2022-10-12T16:25Z","v":5000},{"t":"2022-10-12T18:25Z","v":4100},{"t":"2022-10-12T20:30Z","v":3100},{"t":"2022-10-12T22:35Z","v":1780},{"t":"2022-10-13T00:35Z","v":1260},{"t":"2022-10-13T01:35Z","v":1260}
],
"b9":[
{"t":"2022-10-08T00:00Z","v":0.42},{"t":"2022-10-08T10:05Z","v":0.38},{"t":"2022-10-08T20:20Z","v":0.42},{"t":"2022-10-09T06:30Z","v":0.4},{"t":"2022-10-09T16:45Z","v":0.37},{"t":"2022-10-10T03:00Z","v":0.41},{"t":"2022-10-10T13:15Z","v":0.39},{"t":"2022-10-10T23:30Z","v":0.43},{"t":"2022-10-11T09:40Z","v":0.38},{"t":"2022-10-11T19:55Z","v":0.4},{"t":"2022-10-12T06:10Z","v":0.41},{"t":"2022-10-12T16:25Z","v":0.38},{"t":"2022-10-13T01:35Z","v":0.4}
]
},
"vconcat":[
{
 "width":584,"height":44,
 "encoding":{"x":{"field":"t","type":"temporal","title":null,"scale":{"type":"utc","domain":[{"year":2022,"month":10,"date":8,"utc":true},{"year":2022,"month":10,"date":23,"utc":true}],"nice":false},"axis":{"tickCount":{"interval":"day","step":1},"labels":false,"grid":true}}},
 "layer":[
  {"data":{"name":"xray"},"mark":{"type":"line","color":"#ff00ff","strokeWidth":1,"clip":true},
   "encoding":{"y":{"field":"v","type":"quantitative","title":null,"scale":{"type":"log","domain":[1e-7,1e-3],"nice":false},"axis":{"values":[1e-6,1e-5,1e-4],"grid":true,"labelFontSize":11,"labelExpr":"datum.value < 3e-6 ? 'C' : datum.value < 3e-5 ? 'M' : 'X'"}}}},
  {"data":{"name":"flare"},"mark":{"type":"point","shape":"circle","size":28,"filled":true,"fill":"#8c8cff","stroke":"#2222ee","strokeWidth":1,"opacity":1},
   "encoding":{"y":{"field":"v","type":"quantitative","title":null}}},
  {"data":{"values":[{"t":"2022-10-23T00:00Z","v":1e-4,"l":"rt"}]},"mark":{"type":"text","align":"left","baseline":"middle","dx":3,"fontSize":7,"color":"#333333"},
   "encoding":{"y":{"field":"v","type":"quantitative","title":null},"text":{"field":"l"}}}
 ]
},
{
 "width":584,"height":44,
 "encoding":{"x":{"field":"t","type":"temporal","title":null,"scale":{"type":"utc","domain":[{"year":2022,"month":10,"date":8,"utc":true},{"year":2022,"month":10,"date":23,"utc":true}],"nice":false},"axis":{"tickCount":{"interval":"day","step":1},"labels":false,"grid":true}}},
 "layer":[
  {"data":{"name":"sw"},"mark":{"type":"line","color":"#00ee00","strokeWidth":1.2,"clip":true},
   "encoding":{"y":{"field":"v","type":"quantitative","title":null,"scale":{"domain":[300,800],"nice":false,"zero":false},"axis":{"values":[400,500,600,700],"grid":true}}}},
  {"data":{"values":[{"t":"2022-10-23T00:00Z","v":700,"l":"rt"}]},"mark":{"type":"text","align":"left","baseline":"middle","dx":3,"fontSize":7,"color":"#333333"},
   "encoding":{"y":{"field":"v","type":"quantitative","title":null},"text":{"field":"l"}}}
 ]
},
{
 "width":584,"height":44,
 "encoding":{"x":{"field":"t","type":"temporal","title":null,"scale":{"type":"utc","domain":[{"year":2022,"month":10,"date":8,"utc":true},{"year":2022,"month":10,"date":23,"utc":true}],"nice":false},"axis":{"tickCount":{"interval":"day","step":1},"labels":false,"grid":true}}},
 "layer":[
  {"data":{"name":"gray"},"mark":{"type":"square","size":5,"color":"#d6d6d6","opacity":1,"clip":true},
   "encoding":{"y":{"field":"v","type":"quantitative","title":null,"scale":{"domain":[-2,2],"nice":false,"zero":false},"axis":{"values":[-1,1],"grid":true,"labelFontSize":12,"labelExpr":"datum.value > 0 ? 'T' : 'A'"}}}},
  {"data":{"name":"pink"},"mark":{"type":"area","color":"#f6b4f0","opacity":1,"clip":true},
   "encoding":{"y":{"field":"hi","type":"quantitative","title":null},"y2":{"field":"lo"},"detail":{"field":"s"}}},
  {"data":{"name":"lblue"},"mark":{"type":"area","color":"#a8dcf4","opacity":1,"clip":true},
   "encoding":{"y":{"field":"hi","type":"quantitative","title":null},"y2":{"field":"lo"},"detail":{"field":"s"}}},
  {"data":{"name":"lbp"},"mark":{"type":"square","size":9,"color":"#a8dcf4","opacity":1,"clip":true},
   "encoding":{"y":{"field":"v","type":"quantitative","title":null}}},
  {"data":{"values":[{"t":"2022-10-08T00:00Z","v":0},{"t":"2022-10-23T00:00Z","v":0}]},"mark":{"type":"line","color":"#666666","strokeWidth":1},
   "encoding":{"y":{"field":"v","type":"quantitative","title":null}}},
  {"data":{"name":"sector"},"mark":{"type":"line","strokeWidth":1.2,"clip":true},
   "encoding":{"y":{"field":"v","type":"quantitative","title":null},"detail":{"field":"s"},"color":{"field":"k","type":"nominal","scale":{"domain":["A","G","T"],"range":["#e03a3a","#5b8a5b","#3a55ee"]},"legend":null}}},
  {"data":{"values":[{"t":"2022-10-23T00:00Z","v":1,"l":"rt"}]},"mark":{"type":"text","align":"left","baseline":"middle","dx":3,"fontSize":7,"color":"#333333"},
   "encoding":{"y":{"field":"v","type":"quantitative","title":null},"text":{"field":"l"}}}
 ]
},
{
 "width":584,"height":44,
 "encoding":{"x":{"field":"t","type":"temporal","title":null,"scale":{"type":"utc","domain":[{"year":2022,"month":10,"date":8,"utc":true},{"year":2022,"month":10,"date":23,"utc":true}],"nice":false},"axis":{"tickCount":{"interval":"day","step":1},"labels":false,"grid":true}}},
 "layer":[
  {"data":{"values":[{"t":"2022-10-08T00:00Z","v":0},{"t":"2022-10-23T00:00Z","v":0}]},"mark":{"type":"line","color":"#a00000","strokeWidth":1},
   "encoding":{"y":{"field":"v","type":"quantitative","title":null,"scale":{"domain":[-20,20],"nice":false,"zero":false},"axis":{"values":[-10,0,10],"grid":true}}}},
  {"data":{"name":"bt"},"mark":{"type":"line","color":"#0000ff","strokeWidth":1,"clip":true},
   "encoding":{"y":{"field":"v","type":"quantitative","title":null}}},
  {"data":{"name":"bz"},"mark":{"type":"line","color":"#ff0000","strokeWidth":1.3,"clip":true},
   "encoding":{"y":{"field":"v","type":"quantitative","title":null}}},
  {"data":{"values":[{"t":"2022-10-23T00:00Z","v":12,"l":"rt"}]},"mark":{"type":"text","align":"left","baseline":"middle","dx":3,"fontSize":7,"color":"#333333"},
   "encoding":{"y":{"field":"v","type":"quantitative","title":null},"text":{"field":"l"}}}
 ]
},
{
 "width":584,"height":44,
 "encoding":{"x":{"field":"t","type":"temporal","title":null,"scale":{"type":"utc","domain":[{"year":2022,"month":10,"date":8,"utc":true},{"year":2022,"month":10,"date":23,"utc":true}],"nice":false},"axis":{"tickCount":{"interval":"day","step":1},"labels":false,"grid":true}}},
 "layer":[
  {"data":{"values":[{"t":"2022-10-08T00:00Z","v":0},{"t":"2022-10-23T00:00Z","v":0}]},"mark":{"type":"line","color":"#d07070","strokeWidth":2.5},
   "encoding":{"y":{"field":"v","type":"quantitative","title":null,"scale":{"domain":[-100,50],"nice":false,"zero":false},"axis":{"values":[-50,0],"grid":true}}}},
  {"data":{"name":"dst"},"mark":{"type":"line","color":"#ff22ff","strokeWidth":1,"clip":true},
   "encoding":{"y":{"field":"v","type":"quantitative","title":null}}}
 ]
},
{
 "width":584,"height":44,
 "encoding":{"x":{"field":"t","type":"temporal","title":null,"scale":{"type":"utc","domain":[{"year":2022,"month":10,"date":8,"utc":true},{"year":2022,"month":10,"date":23,"utc":true}],"nice":false},"axis":{"tickCount":{"interval":"day","step":1},"labels":false,"grid":true}}},
 "layer":[
  {"data":{"name":"cyb"},"mark":{"type":"line","color":"#00f0f0","strokeWidth":1,"clip":true},
   "encoding":{"y":{"field":"v","type":"quantitative","title":null,"scale":{"domain":[0,60],"nice":false},"axis":{"values":[20,40],"grid":true}}}},
  {"data":{"name":"cya"},"mark":{"type":"line","color":"#00ffff","strokeWidth":1,"clip":true},
   "encoding":{"y":{"field":"v","type":"quantitative","title":null}}}
 ]
},
{
 "width":584,"height":44,
 "encoding":{"x":{"field":"t","type":"temporal","title":null,"scale":{"type":"utc","domain":[{"year":2022,"month":10,"date":8,"utc":true},{"year":2022,"month":10,"date":23,"utc":true}],"nice":false},"axis":{"tickCount":{"interval":"day","step":1},"labels":false,"grid":true}}},
 "layer":[
  {"data":{"values":[{"t":"2022-10-08T00:00Z","v":1e7},{"t":"2022-10-23T00:00Z","v":1e7}]},"mark":{"type":"line","color":"#c00000","strokeWidth":1},
   "encoding":{"y":{"field":"v","type":"quantitative","title":null,"scale":{"type":"log","domain":[1e5,5e7],"nice":false},"axis":{"values":[1e6,1e7],"grid":true,"labelExpr":"datum.value > 5e6 ? '10⁷' : '10⁶'"}}}},
  {"data":{"values":[{"t":"2022-10-08T00:00Z","v":1e6},{"t":"2022-10-23T00:00Z","v":1e6}]},"mark":{"type":"line","color":"#c00000","strokeWidth":1},
   "encoding":{"y":{"field":"v","type":"quantitative","title":null}}},
  {"data":{"name":"pur"},"mark":{"type":"line","color":"#9a33d6","strokeWidth":1.2,"clip":true},
   "encoding":{"y":{"field":"v","type":"quantitative","title":null}}}
 ]
},
{
 "width":584,"height":44,
 "encoding":{"x":{"field":"t","type":"temporal","title":null,"scale":{"type":"utc","domain":[{"year":2022,"month":10,"date":8,"utc":true},{"year":2022,"month":10,"date":23,"utc":true}],"nice":false},"axis":{"tickCount":{"interval":"day","step":1},"labels":false,"grid":true}}},
 "layer":[
  {"data":{"values":[{"t":"2022-10-08T00:00Z","v":1e4},{"t":"2022-10-23T00:00Z","v":1e4}]},"mark":{"type":"line","color":"#dd2a2a","strokeWidth":1.5,"strokeDash":[9,5]},
   "encoding":{"y":{"field":"v","type":"quantitative","title":null,"scale":{"type":"log","domain":[10,1e5],"nice":false},"axis":{"values":[100,1000,10000],"grid":true,"labelExpr":"datum.value > 5000 ? '10⁴' : datum.value > 500 ? '10³' : '10²'"}}}},
  {"data":{"name":"b8"},"mark":{"type":"line","color":"#0000ff","strokeWidth":1.2,"clip":true},
   "encoding":{"y":{"field":"v","type":"quantitative","title":null}}},
  {"data":{"name":"r8"},"mark":{"type":"line","color":"#ff0000","strokeWidth":1.2,"clip":true},
   "encoding":{"y":{"field":"v","type":"quantitative","title":null}}},
  {"data":{"values":[{"t":"2022-10-23T00:00Z","v":1e4,"l":"rt"}]},"mark":{"type":"text","align":"left","baseline":"middle","dx":3,"fontSize":7,"color":"#333333"},
   "encoding":{"y":{"field":"v","type":"quantitative","title":null},"text":{"field":"l"}}}
 ]
},
{
 "width":584,"height":44,
 "encoding":{"x":{"field":"t","type":"temporal","scale":{"type":"utc","domain":[{"year":2022,"month":10,"date":8,"utc":true},{"year":2022,"month":10,"date":23,"utc":true}],"nice":false},"axis":{"values":[{"year":2022,"month":10,"date":8,"hours":12,"utc":true},{"year":2022,"month":10,"date":9,"hours":12,"utc":true},{"year":2022,"month":10,"date":10,"hours":12,"utc":true},{"year":2022,"month":10,"date":11,"hours":12,"utc":true},{"year":2022,"month":10,"date":12,"hours":12,"utc":true},{"year":2022,"month":10,"date":13,"hours":12,"utc":true},{"year":2022,"month":10,"date":14,"hours":12,"utc":true},{"year":2022,"month":10,"date":15,"hours":12,"utc":true},{"year":2022,"month":10,"date":16,"hours":12,"utc":true},{"year":2022,"month":10,"date":17,"hours":12,"utc":true},{"year":2022,"month":10,"date":18,"hours":12,"utc":true},{"year":2022,"month":10,"date":19,"hours":12,"utc":true},{"year":2022,"month":10,"date":20,"hours":12,"utc":true},{"year":2022,"month":10,"date":21,"hours":12,"utc":true},{"year":2022,"month":10,"date":22,"hours":12,"utc":true}],"grid":false,"labelExpr":"utcFormat(datum.value, '%m/%e')","labelAlign":"center","labelPadding":4,"title":"2022","titleX":-15,"titleY":4,"titleBaseline":"top","titleAlign":"center","titleFontWeight":"normal","titleFontSize":11,"titleFont":"DejaVu Sans","titleColor":"#000000"}}},
 "layer":[
  {"data":{"name":"days"},"mark":{"type":"rule","color":"#d2d2d2","strokeWidth":1},"encoding":{}},
  {"data":{"name":"b9"},"mark":{"type":"line","color":"#1f3fff","strokeWidth":1.2,"clip":true},
   "encoding":{"y":{"field":"v","type":"quantitative","title":null,"scale":{"type":"log","domain":[0.1,1e5],"nice":false},"axis":{"values":[1,100,10000],"grid":true,"labelExpr":"datum.value > 5000 ? '10⁴' : datum.value > 50 ? '10²' : '10⁰'"}}}}
 ]
}
]
}
